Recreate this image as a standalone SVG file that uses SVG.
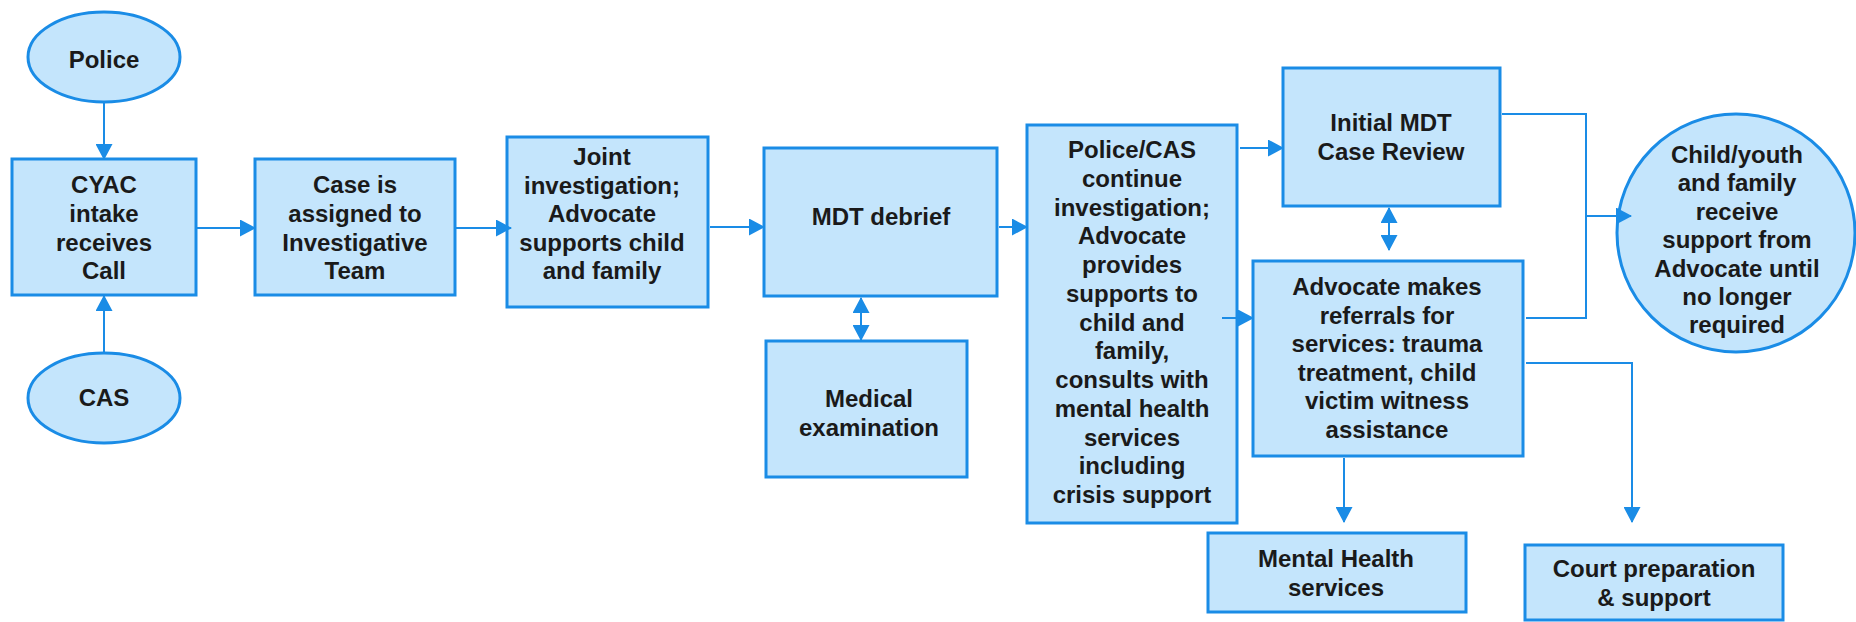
<svg xmlns="http://www.w3.org/2000/svg" width="1856" height="622" viewBox="0 0 1856 622">
<style>
.n{fill:#C4E5FC;stroke:#1A8CE6;stroke-width:3}
.t{font-family:"Liberation Sans",Arial,sans-serif;font-weight:bold;font-size:24px;fill:#1a1a1a;text-anchor:middle}
.c{fill:none;stroke:#1A8CE6;stroke-width:2}
</style>
<defs>
<marker id="ah" markerUnits="userSpaceOnUse" viewBox="0 0 16 17" markerWidth="16" markerHeight="17" refX="15" refY="8.5" orient="auto-start-reverse">
<path d="M0,0 L16,8.5 L0,17 z" fill="#1A8CE6"/>
</marker>
</defs>
<rect width="1856" height="622" fill="#ffffff"/>
<g id="police">
<ellipse class="n" cx="104" cy="57" rx="76" ry="45"/>
<text class="t" x="104" y="68">Police</text>
</g>
<g id="cas">
<ellipse class="n" cx="104" cy="398" rx="76" ry="45"/>
<text class="t" x="104" y="406">CAS</text>
</g>
<g id="cyac">
<rect class="n" x="12" y="159" width="184" height="136"/>
<text class="t" x="104" y="193"><tspan x="104">CYAC</tspan><tspan x="104" dy="28.8">intake</tspan><tspan x="104" dy="28.8">receives</tspan><tspan x="104" dy="28.8">Call</tspan></text>
</g>
<g id="case">
<rect class="n" x="255" y="159" width="200" height="136"/>
<text class="t" x="355" y="193"><tspan x="355">Case is</tspan><tspan x="355" dy="28.8">assigned to</tspan><tspan x="355" dy="28.8">Investigative</tspan><tspan x="355" dy="28.8">Team</tspan></text>
</g>
<g id="joint">
<rect class="n" x="507" y="137" width="201" height="170"/>
<text class="t" x="602" y="165"><tspan x="602">Joint</tspan><tspan x="602" dy="28.6">investigation;</tspan><tspan x="602" dy="28.6">Advocate</tspan><tspan x="602" dy="28.6">supports child</tspan><tspan x="602" dy="28.6">and family</tspan></text>
</g>
<g id="mdt">
<rect class="n" x="764" y="148" width="233" height="148"/>
<text class="t" x="881" y="225">MDT debrief</text>
</g>
<g id="medical">
<rect class="n" x="766" y="341" width="201" height="136"/>
<text class="t" x="869" y="407"><tspan x="869">Medical</tspan><tspan x="869" dy="29">examination</tspan></text>
</g>
<g id="policecas">
<rect class="n" x="1027" y="125" width="210" height="398"/>
<text class="t" x="1132" y="158"><tspan x="1132">Police/CAS</tspan><tspan x="1132" dy="28.75">continue</tspan><tspan x="1132" dy="28.75">investigation;</tspan><tspan x="1132" dy="28.75">Advocate</tspan><tspan x="1132" dy="28.75">provides</tspan><tspan x="1132" dy="28.75">supports to</tspan><tspan x="1132" dy="28.75">child and</tspan><tspan x="1132" dy="28.75">family,</tspan><tspan x="1132" dy="28.75">consults with</tspan><tspan x="1132" dy="28.75">mental health</tspan><tspan x="1132" dy="28.75">services</tspan><tspan x="1132" dy="28.75">including</tspan><tspan x="1132" dy="28.75">crisis support</tspan></text>
</g>
<g id="initial">
<rect class="n" x="1283" y="68" width="217" height="138"/>
<text class="t" x="1391" y="131"><tspan x="1391">Initial MDT</tspan><tspan x="1391" dy="28.5">Case Review</tspan></text>
</g>
<g id="advocate">
<rect class="n" x="1253" y="261" width="270" height="195"/>
<text class="t" x="1387" y="295"><tspan x="1387">Advocate makes</tspan><tspan x="1387" dy="28.6">referrals for</tspan><tspan x="1387" dy="28.6">services: trauma</tspan><tspan x="1387" dy="28.6">treatment, child</tspan><tspan x="1387" dy="28.6">victim witness</tspan><tspan x="1387" dy="28.6">assistance</tspan></text>
</g>
<g id="childyouth">
<ellipse class="n" cx="1736" cy="233" rx="119" ry="119"/>
<text class="t" x="1737" y="163"><tspan x="1737">Child/youth</tspan><tspan x="1737" dy="28.4">and family</tspan><tspan x="1737" dy="28.4">receive</tspan><tspan x="1737" dy="28.4">support from</tspan><tspan x="1737" dy="28.4">Advocate until</tspan><tspan x="1737" dy="28.4">no longer</tspan><tspan x="1737" dy="28.4">required</tspan></text>
</g>
<g id="mental">
<rect class="n" x="1208" y="533" width="258" height="79"/>
<text class="t" x="1336" y="567"><tspan x="1336">Mental Health</tspan><tspan x="1336" dy="29">services</tspan></text>
</g>
<g id="court">
<rect class="n" x="1525" y="545" width="258" height="75"/>
<text class="t" x="1654" y="577"><tspan x="1654">Court preparation</tspan><tspan x="1654" dy="29">&amp; support</tspan></text>
</g>
<g id="connectors">
<line class="c" x1="104" y1="102" x2="104" y2="159" marker-end="url(#ah)"/>
<line class="c" x1="104" y1="352" x2="104" y2="296" marker-end="url(#ah)"/>
<line class="c" x1="197" y1="228" x2="255" y2="228" marker-end="url(#ah)"/>
<line class="c" x1="455" y1="228" x2="511" y2="228" marker-end="url(#ah)"/>
<line class="c" x1="710" y1="227" x2="764" y2="227" marker-end="url(#ah)"/>
<line class="c" x1="999" y1="227" x2="1027" y2="227" marker-end="url(#ah)"/>
<line class="c" x1="861" y1="298" x2="861" y2="340" marker-start="url(#ah)" marker-end="url(#ah)"/>
<line class="c" x1="1240" y1="148" x2="1283" y2="148" marker-end="url(#ah)"/>
<line class="c" x1="1222" y1="318" x2="1253" y2="318" marker-end="url(#ah)"/>
<line class="c" x1="1389" y1="208" x2="1389" y2="250" marker-start="url(#ah)" marker-end="url(#ah)"/>
<polyline class="c" points="1502,114 1586,114 1586,318 1526,318"/>
<line class="c" x1="1586" y1="216" x2="1631" y2="216" marker-end="url(#ah)"/>
<polyline class="c" points="1526,363 1632,363 1632,522" marker-end="url(#ah)"/>
<line class="c" x1="1344" y1="458" x2="1344" y2="522" marker-end="url(#ah)"/>
</g>
</svg>
